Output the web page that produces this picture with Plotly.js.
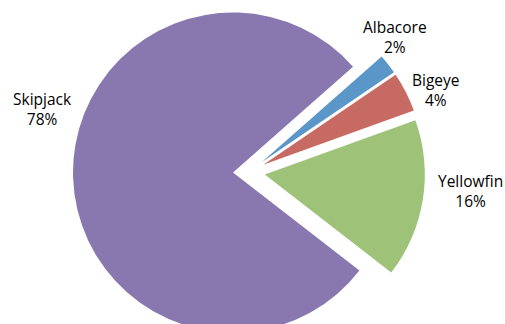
<!DOCTYPE html>
<html><head><meta charset="utf-8">
<script src="https://cdn.plot.ly/plotly-3.0.1.min.js"></script>
<style>html,body{margin:0;padding:0;overflow:hidden;background:#fff;width:505px;height:324px}
#chart{position:absolute;left:0;top:-20px;width:505px;height:380px}</style>
</head><body><div id="chart"></div>
<script>
const categories = ['Albacore', 'Bigeye', 'Yellowfin', 'Skipjack'];
const shares = [2, 4, 16, 78];
const colors = ['#5A96C8', '#C86A64', '#9EC378', '#8978AF'];
const pulls = [0.1, 0.1, 0.1, 0.1];
// label block centres in window pixels
const labelPos = [[395, 37], [436, 90], [470, 191], [42, 109]];

const W = 505, H = 380, OFF = 20;
const cx = 249, cy = 172 + OFF, half = 176;

const annotations = categories.map((c, i) => ({
  text: c + '<br>' + shares[i] + '%',
  xref: 'paper', yref: 'paper',
  x: labelPos[i][0] / W,
  y: (H - (labelPos[i][1] + OFF)) / H,
  xanchor: 'center', yanchor: 'middle',
  showarrow: false, align: 'center',
  font: {family: 'Open Sans, sans-serif', size: 15.5, color: '#000'}
}));

Plotly.newPlot('chart', [{
  type: 'pie',
  labels: categories,
  values: shares,
  sort: false,
  direction: 'clockwise',
  rotation: 48.6,
  pull: pulls,
  marker: {colors: colors, line: {width: 0}},
  textinfo: 'none',
  hoverinfo: 'none',
  showlegend: false,
  domain: {x: [(cx - half) / W, (cx + half) / W], y: [(H - (cy + half)) / H, (H - (cy - half)) / H]}
}], {
  width: W, height: H,
  margin: {l: 0, r: 0, t: 0, b: 0},
  paper_bgcolor: '#fff',
  showlegend: false,
  annotations: annotations
}, {displayModeBar: false, staticPlot: true});
</script></body></html>
